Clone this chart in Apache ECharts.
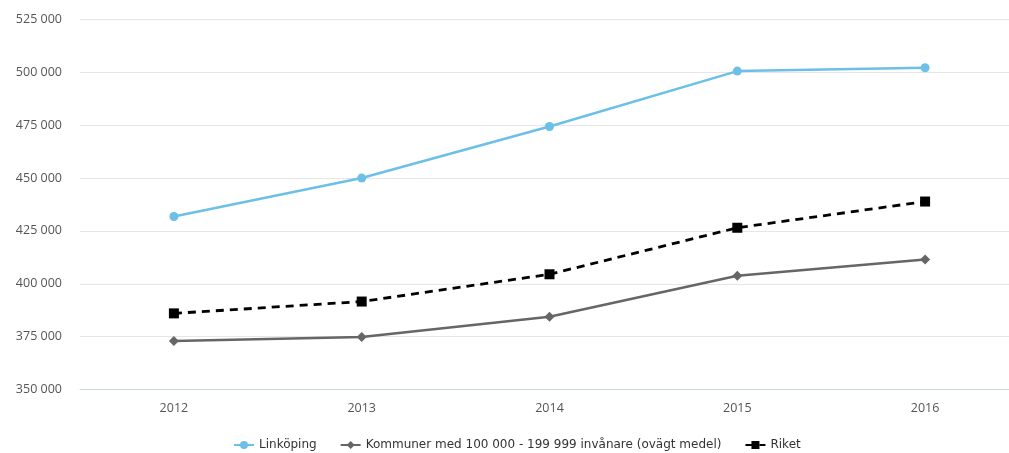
<!DOCTYPE html>
<html>
<head>
<meta charset="utf-8">
<script src="https://cdn.jsdelivr.net/npm/echarts@6/dist/echarts.min.js"></script>
<style>
  html, body { margin: 0; padding: 0; background: #fff; }
  #chart { width: 1009px; height: 453px; }
</style>
</head>
<body>
<div id="chart"></div>
<script>
const years = ['2012', '2013', '2014', '2015', '2016'];
const linkoping = [431800, 450000, 474400, 500600, 502200];
const kommuner = [372900, 374800, 384400, 403800, 411500];
const riket = [386000, 391600, 404500, 426500, 438900];

const fmt = v => String(v).replace(/\B(?=(\d{3})+(?!\d))/g, ' ');

const chart = echarts.init(document.getElementById('chart'));
chart.setOption({
    backgroundColor: '#fff',
    animation: false,
    grid: { left: 80, width: 939, top: 19.5, bottom: 63.5, containLabel: false, outerBoundsMode: 'none' },
    legend: {
        top: 434,
        left: 228,
        itemGap: 23,
        itemWidth: 20,
        itemHeight: 10,
        textStyle: { color: '#333', fontSize: 12, fontFamily: 'DejaVu Sans' },
        data: ['Linköping', 'Kommuner med 100 000 - 199 999 invånare (ovägt medel)', 'Riket']
    },
    xAxis: {
        type: 'category',
        data: years,
        boundaryGap: true,
        axisLine: { lineStyle: { color: '#ccd6eb', width: 1 } },
        axisTick: { show: false },
        axisLabel: { color: '#555', fontSize: 12.5, fontFamily: 'Open Sans', margin: 12 }
    },
    yAxis: {
        type: 'value',
        min: 350000,
        max: 525000,
        interval: 25000,
        axisLine: { show: false },
        axisTick: { show: false },
        splitLine: { lineStyle: { color: '#e6e6e6', width: 1 } },
        axisLabel: { color: '#555', fontSize: 12.5, fontFamily: 'Open Sans', margin: 18, formatter: fmt }
    },
    series: [
        {
            name: 'Linköping',
            type: 'line',
            data: linkoping,
            symbol: 'circle',
            symbolSize: 9,
            color: '#6cc0e8',
            lineStyle: { width: 2.5 }
        },
        {
            name: 'Kommuner med 100 000 - 199 999 invånare (ovägt medel)',
            type: 'line',
            data: kommuner,
            symbol: 'diamond',
            symbolSize: 10,
            color: '#666666',
            lineStyle: { width: 2.5 }
        },
        {
            name: 'Riket',
            type: 'line',
            data: riket,
            symbol: 'rect',
            symbolSize: 10,
            color: '#000000',
            lineStyle: { width: 2.8, type: [8, 6] }
        }
    ]
});
</script>
</body>
</html>
